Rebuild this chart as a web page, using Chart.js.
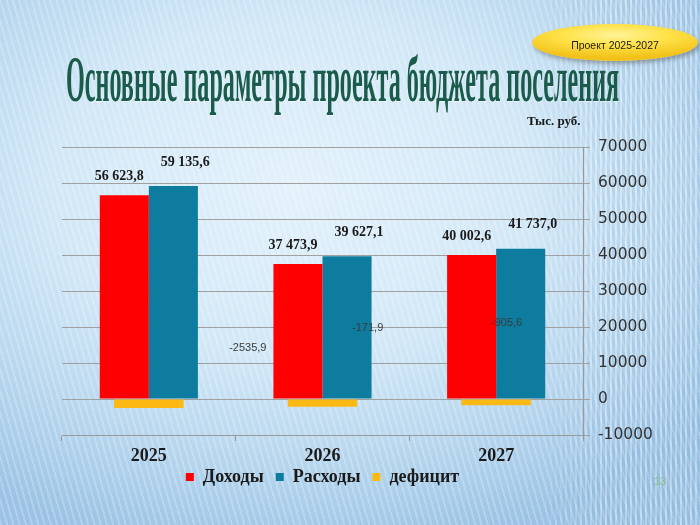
<!DOCTYPE html>
<html>
<head>
<meta charset="utf-8">
<script src="https://cdn.jsdelivr.net/npm/chart.js@4.4.1/dist/chart.umd.min.js"></script>
<style>
html,body{margin:0;padding:0;width:700px;height:525px;overflow:hidden;}
body{
  position:relative;
  background:
    repeating-linear-gradient(74deg, rgba(255,255,255,0.22) 0px, rgba(255,255,255,0.22) 2px, rgba(255,255,255,0) 2px, rgba(255,255,255,0) 6px),
    radial-gradient(ellipse 75% 70% at 42% 36%, #e3f1fb 0%, #d2e8f7 45%, #b1d2ec 80%, #9cc3e5 100%);
}
#stripes{position:absolute;left:540px;top:0;width:160px;height:525px;
  background:
    repeating-linear-gradient(90deg, rgba(255,255,255,0.28) 0px, rgba(255,255,255,0.28) 2px, rgba(90,140,190,0.10) 2px, rgba(90,140,190,0.10) 5px);
  -webkit-mask-image:linear-gradient(90deg, rgba(0,0,0,0) 0%, rgba(0,0,0,1) 40%);
  mask-image:linear-gradient(90deg, rgba(0,0,0,0) 0%, rgba(0,0,0,1) 40%);}
#title{position:absolute;left:66px;top:46px;white-space:nowrap;font-family:"Liberation Serif",serif;font-weight:bold;font-size:66px;line-height:1;color:#1a5b4c;transform-origin:0 0;text-shadow:1px 1px 1px rgba(255,255,255,0.5);}
#oval{position:absolute;left:532px;top:24px;width:166px;height:37px;border-radius:50%;
  background:radial-gradient(ellipse 70% 60% at 50% 30%, #fff39a 0%, #ffe34a 45%, #f2c21a 100%);
  box-shadow:2px 3px 4px rgba(80,80,80,0.45);
  font-family:"Liberation Sans",Arial,sans-serif;font-size:10.5px;color:#1a1a1a;text-align:center;line-height:42px;}
#unit{position:absolute;left:527px;top:113px;font-family:"Liberation Serif",serif;font-weight:bold;font-size:13px;color:#1a1a1a;}
#page{position:absolute;left:654px;top:475px;font-family:"Liberation Sans",Arial,sans-serif;font-size:11px;color:#86bd86;}
#c{position:absolute;left:0;top:0;}
</style>
</head>
<body>
<div id="stripes"></div>
<canvas id="c" width="700" height="525"></canvas>
<div id="title">Основные параметры проекта бюджета поселения</div>
<div id="oval">Проект 2025-2027</div>
<div id="unit">Тыс. руб.</div>
<div id="page">13</div>
<script>
// ---- data ----
const categories = ['2025', '2026', '2027'];
const seriesNames = ['Доходы', 'Расходы', 'дефицит'];
const incomes = [56623.8, 37473.9, 40002.6];
const expenses = [59135.6, 39627.1, 41737.0];
const deficit = [-2510, -2150, -1730];
const deficitLabels = ['-2535,9', '-171,9', '-905,6'];
const yTicks = [-10000, 0, 10000, 20000, 30000, 40000, 50000, 60000, 70000];

// ---- layout-only settings for the displaced deficit labels ----
const deficitLabelShift = [0.57, 0.26, 0.06];      // in category units
const deficitLabelLevel = [14200, 19700, 21100];   // in axis units

// fit title width
const t = document.getElementById('title');
t.style.transform = 'scaleX(' + (553 / t.offsetWidth) + ')';

function fmt(v) {
  const s = v.toFixed(1).split('.');
  return s[0].replace(/\B(?=(\d{3})+(?!\d))/g, ' ') + ',' + s[1];
}

const LEGEND_PAD = 12;
const LEGEND_FONT = 18;

const labelPlugin = {
  id: 'valueLabels',
  afterDatasetsDraw(chart) {
    const ctx = chart.ctx;
    ctx.save();
    ctx.textAlign = 'center';
    ctx.textBaseline = 'middle';
    ctx.fillStyle = '#1a1a1a';
    ctx.font = 'bold 14px "Liberation Serif", serif';
    [0, 1].forEach(di => {
      const meta = chart.getDatasetMeta(di);
      meta.data.forEach((bar, i) => {
        const v = chart.data.datasets[di].data[i];
        const dx = di === 0 ? -5 : 12;
        const dy = di === 0 ? -19 : -24;
        ctx.fillText(fmt(v), bar.x + dx, bar.y + dy);
      });
    });
    const xs = chart.scales.x, ys = chart.scales.y;
    const step = xs.getPixelForValue(1) - xs.getPixelForValue(0);
    ctx.font = '11px "Liberation Sans", Arial, sans-serif';
    ctx.fillStyle = '#3a3a3a';
    deficitLabels.forEach((txt, i) => {
      const x = xs.getPixelForValue(i) + deficitLabelShift[i] * step;
      const y = ys.getPixelForValue(deficitLabelLevel[i]);
      ctx.fillText(txt, x, y);
    });
    ctx.restore();
  },
  afterLayout(chart) {
    const lg = chart.legend;
    if (lg) {
      lg.right = chart.chartArea.right;
      const h = lg.bottom - lg.top;
      lg.top = chart.chartArea.bottom + 42 - LEGEND_PAD - LEGEND_FONT / 2;
      lg.bottom = lg.top + h;
    }
  }
};

new Chart(document.getElementById('c'), {
  type: 'bar',
  data: {
    labels: categories,
    datasets: [
      { label: seriesNames[0], data: incomes, backgroundColor: '#ff0000', categoryPercentage: 0.565, barPercentage: 1.0 },
      { label: seriesNames[1], data: expenses, backgroundColor: '#0e7c9e', categoryPercentage: 0.565, barPercentage: 1.0 },
      { label: seriesNames[2], data: deficit, backgroundColor: '#fdb913', grouped: false, categoryPercentage: 0.8, barPercentage: 0.5 }
    ]
  },
  options: {
    responsive: false,
    animation: false,
    layout: { padding: { left: 62, top: 147, right: 0, bottom: 16 } },
    plugins: {
      legend: {
        position: 'bottom',
        labels: {
          boxWidth: 8, boxHeight: 8, padding: LEGEND_PAD,
          color: '#1a1a1a',
          font: { family: '"Liberation Serif", serif', weight: 'bold', size: LEGEND_FONT }
        }
      },
      tooltip: { enabled: false }
    },
    scales: {
      x: {
        grid: { display: true, drawOnChartArea: false, offset: true, tickLength: 6, color: '#9a9a9a' },
        border: { display: true, color: '#9a9a9a' },
        ticks: { color: '#1a1a1a', padding: 5, font: { family: '"Liberation Serif", serif', weight: 'bold', size: 18 } },
        afterFit(s) { s.height = 34; }
      },
      y: {
        position: 'right',
        min: -10000, max: 70000,
        afterBuildTicks(s) { s.ticks = yTicks.map(v => ({ value: v })); },
        grid: { color: '#a0a0a0', tickLength: 7 },
        border: { display: true, color: '#9a9a9a' },
        ticks: { color: '#333333', padding: 8, callback: v => String(v), font: { family: '"DejaVu Sans", sans-serif', size: 15.5 } },
        afterFit(s) { s.width = 117; }
      }
    }
  },
  plugins: [labelPlugin]
});
</script>
</body>
</html>
